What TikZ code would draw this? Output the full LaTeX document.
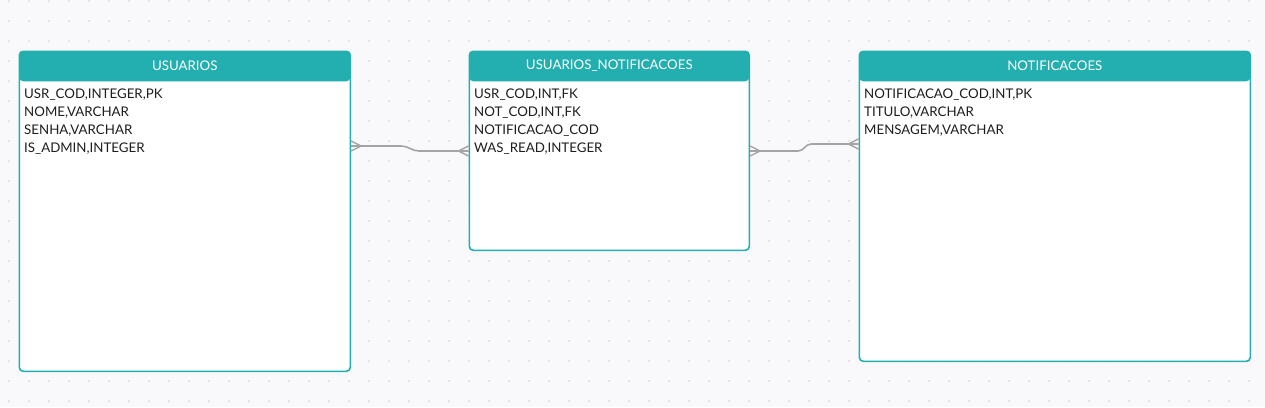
\documentclass[tikz,border=0pt]{standalone}
\usepackage{fontspec}
\setmainfont{Lato}
\usetikzlibrary{calc}
\definecolor{bgc}{HTML}{F9F9FB}
\definecolor{dotc}{HTML}{DADADF}
\definecolor{tealc}{HTML}{23AFAF}
\definecolor{linec}{HTML}{A4A4A4}
\definecolor{txtc}{HTML}{1E1E1E}
\begin{document}
\begin{tikzpicture}[x=1pt,y=-1pt,
  tbl/.style={draw=tealc, line width=1.6pt, fill=white, rounded corners=4pt, anchor=north west, inner sep=0pt,
    path picture={\fill[tealc] (path picture bounding box.north west) rectangle ([yshift=-30pt]path picture bounding box.north east);}},
  head/.style={text=white, font=\fontsize{13.3}{15}\selectfont, inner sep=0pt, anchor=center},
  fields/.style={text=txtc, font=\fontsize{13.3}{18}\selectfont, align=left, inner sep=0pt, anchor=north west},
  conn/.style={draw=linec, line width=1.6pt},
  foot/.style={draw=linec, line width=1.4pt}]
\useasboundingbox (0,0) rectangle (1265,407);
\fill[bgc] (0,0) rectangle (1265,407);
\foreach \i in {0,...,62} {
  \foreach \j in {0,...,20} {
    \fill[dotc] (9+20*\i, 1+20*\j) circle (1pt);
  }
}
% tables
\node[tbl, minimum width=331pt, minimum height=320pt] (usr) at (18.5,50.5) {};
\node[tbl, minimum width=280pt, minimum height=199pt] (un) at (468.5,50.5) {};
\node[tbl, minimum width=391pt, minimum height=310pt] (nt) at (858.5,50.5) {};
% headers
\node[head] (usrh) at ($(usr.north)+(0,15)$) {USUARIOS};
\node[head] (unh) at ($(un.north)+(0,15)$) {USUARIOS\_NOTIFICACOES};
\node[head] (nth) at ($(nt.north)+(0,15)$) {NOTIFICACOES};
% fields
\node[fields] (usrf) at ($(usr.north west)+(5.5,38)$) {USR\_COD,INTEGER,PK\\NOME,VARCHAR\\SENHA,VARCHAR\\IS\_ADMIN,INTEGER};
\node[fields] (unf) at ($(un.north west)+(5.5,38)$) {USR\_COD,INT,FK\\NOT\_COD,INT,FK\\NOTIFICACAO\_COD\\WAS\_READ,INTEGER};
\node[fields] (ntf) at ($(nt.north west)+(5.5,38)$) {NOTIFICACAO\_COD,INT,PK\\TITULO,VARCHAR\\MENSAGEM,VARCHAR};
% connector anchors
\coordinate (a1) at ($(usr.north east)+(0,95.5)$);
\coordinate (b1) at ($(un.north west)+(0,100.5)$);
\coordinate (a2) at ($(un.north east)+(0,100.5)$);
\coordinate (b2) at ($(nt.north west)+(0,93.5)$);
% connectors
\draw[conn] (a1) -- ++(50,0) to[out=0,in=180] ++(18,5) -- (b1);
\draw[conn] (a2) -- ++(48,0) to[out=0,in=180] ++(13,-7) -- (b2);
% crow's feet
\draw[foot] ($(a1)+(0,-5)$) -- ($(a1)+(10,0)$) -- ($(a1)+(0,5)$);
\draw[foot] ($(b1)+(0,-5)$) -- ($(b1)+(-10,0)$) -- ($(b1)+(0,5)$);
\draw[foot] ($(a2)+(0,-5)$) -- ($(a2)+(10,0)$) -- ($(a2)+(0,5)$);
\draw[foot] ($(b2)+(0,-5)$) -- ($(b2)+(-10,0)$) -- ($(b2)+(0,5)$);
\end{tikzpicture}
\end{document}
